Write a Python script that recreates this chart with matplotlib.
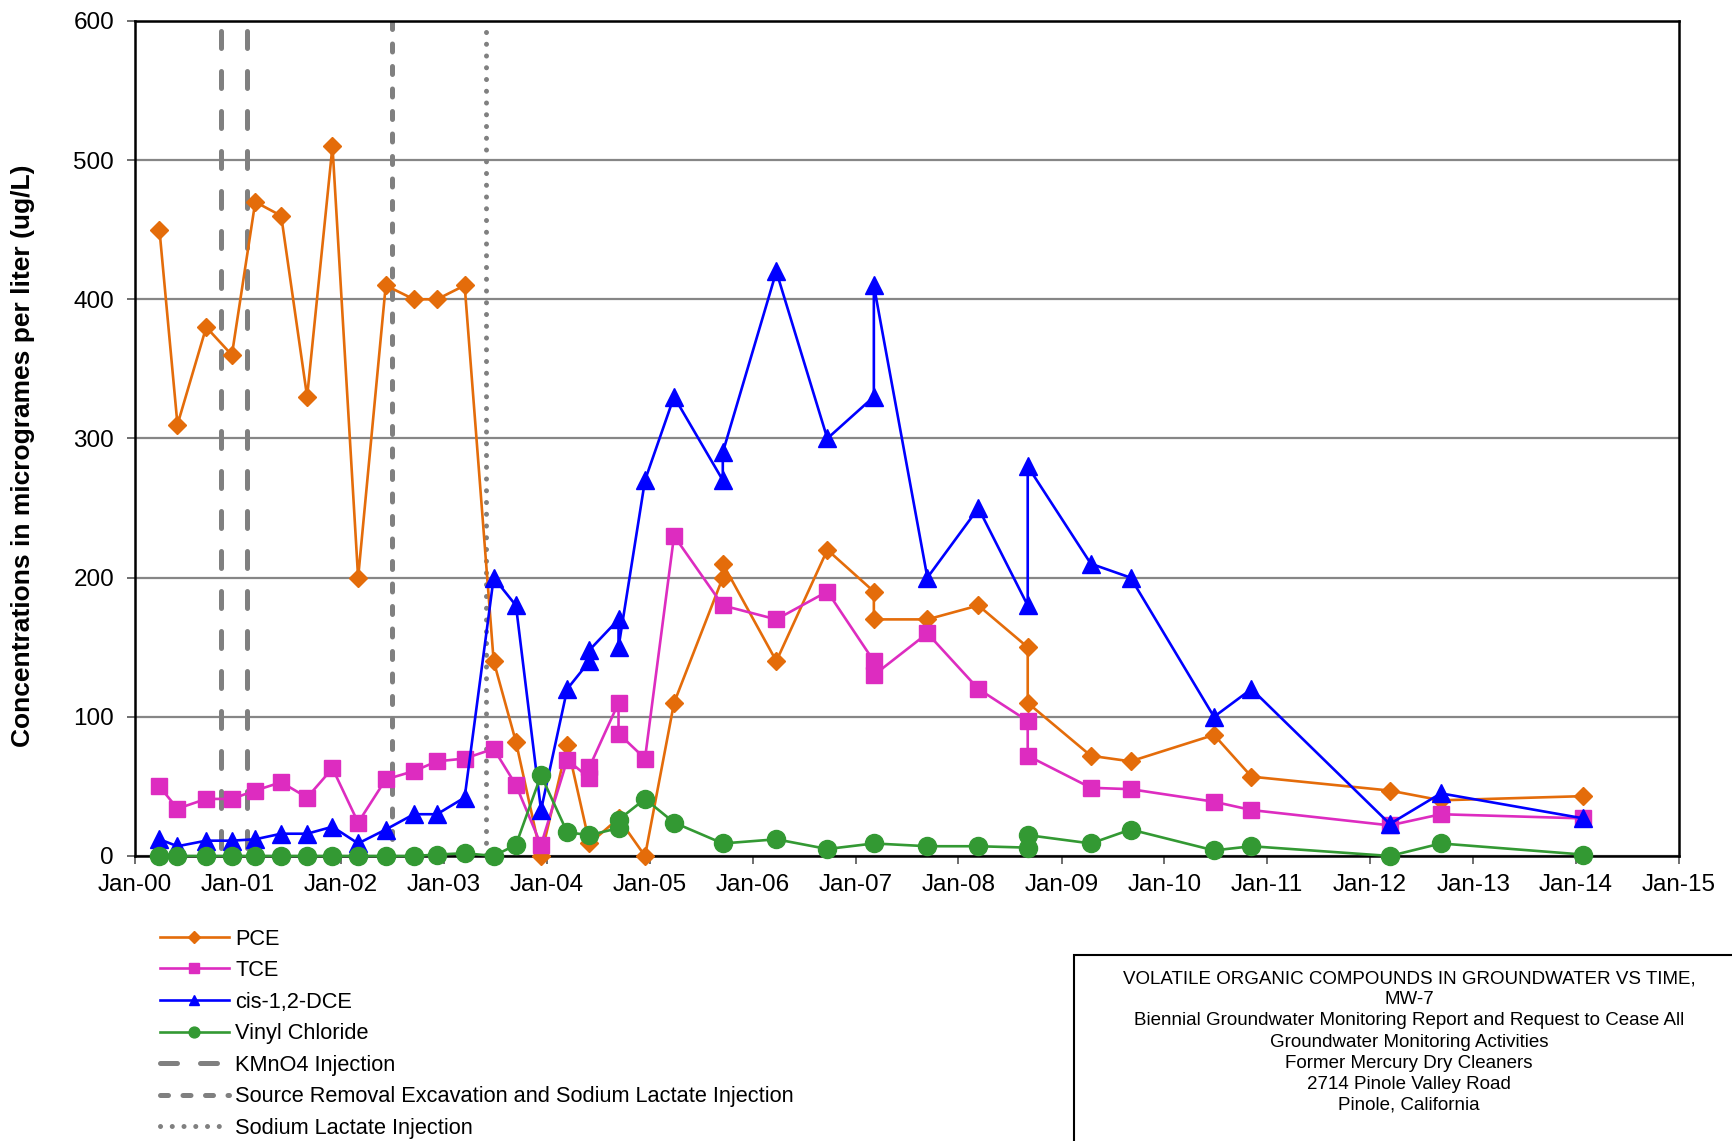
import numpy as np
import pandas as pd
import matplotlib
matplotlib.use("Agg")
import matplotlib.pyplot as plt
import matplotlib.dates as mdates
from matplotlib.patches import Rectangle

plt.rcParams["font.family"] = ["Liberation Sans", "DejaVu Sans"]

# sampling dates (repeated date = duplicate sample on the same event)
sample_dates = [
    "2000-03-28", "2000-05-31", "2000-09-10", "2000-12-10", "2001-03-03",
    "2001-06-03", "2001-09-03", "2001-12-02", "2002-03-03", "2002-06-09",
    "2002-09-17", "2002-12-08", "2003-03-16", "2003-06-27", "2003-09-14",
    "2003-12-12", "2004-03-14", "2004-06-01", "2004-06-01", "2004-09-12",
    "2004-09-12", "2004-12-15", "2005-03-28", "2005-09-17", "2005-09-17",
    "2006-03-26", "2006-09-23", "2007-03-07", "2007-03-07", "2007-09-13",
    "2008-03-12", "2008-09-03", "2008-09-03", "2009-04-15", "2009-09-03",
    "2010-06-26", "2010-11-06", "2012-03-11", "2012-09-08", "2014-01-27",
]

pce = [450, 310, 380, 360, 470, 460, 330, 510, 200, 410,
       400, 400, 410, 140, 82, 0, 80, 9, None, 27,
       None, 0, 110, 200, 210, 140, 220, 190, 170, 170,
       180, 150, 110, 72, 68, 87, 57, 47, 40, 43]
tce = [50, 34, 41, 41, 47, 53, 42, 63, 24, 55,
       61, 68, 70, 77, 51, 8, 69, 56, 64, 110,
       88, 70, 230, 180, None, 170, 190, 140, 130, 160,
       120, 97, 72, 49, 48, 39, 33, 22, 30, 27]
dce = [12, 7, 11, 11, 12, 16, 16, 21, 9, 19,
       30, 30, 42, 200, 180, 33, 120, 140, 148, 170,
       150, 270, 330, 270, 290, 420, 300, 330, 410, 200,
       250, 180, 280, 210, 200, 100, 120, 23, 45, 27]
vinyl = [0, 0, 0, 0, 0, 0, 0, 0, 0, 0,
         0, 1, 2, 0, 8, 58, 17, 15, None, 20,
         26, 41, 24, 9, None, 12, 5, 9, None, 7,
         7, 6, 15, 9, 19, 4, 7, 0, 9, 1]

series_names = ["PCE", "TCE", "cis-1,2-DCE", "Vinyl Chloride"]
series_colors = ["#E46C0A", "#DD2CC0", "#0000FF", "#339933"]

# remediation events
kmno4_dates = ["2000-11-01", "2001-02-01"]
excavation_dates = ["2002-07-01"]
lactate_dates = ["2003-06-01"]

title_lines = [
    "VOLATILE ORGANIC COMPOUNDS IN GROUNDWATER VS TIME,",
    "MW-7",
    "Biennial Groundwater Monitoring Report and Request to Cease All",
    "Groundwater Monitoring Activities",
    "Former Mercury Dry Cleaners",
    "2714 Pinole Valley Road",
    "Pinole, California",
]

df = pd.DataFrame({"date": pd.to_datetime(sample_dates), "PCE": pce, "TCE": tce,
                   "cis-1,2-DCE": dce, "Vinyl Chloride": vinyl})

fig = plt.figure(figsize=(17.32, 11.41), dpi=100)
ax = fig.add_axes([0.0779, 0.2498, 0.8915, 0.7318])

gray = "#808080"
handles = []
for name, color, marker, ms in zip(series_names, series_colors,
                                   ["D", "s", "^", "o"], [9.5, 12, 13, 13]):
    sub = df[["date", name]].dropna()
    ln, = ax.plot(sub["date"], sub[name], color=color, lw=1.9, marker=marker,
                  ms=ms, mec=color, mfc=color, clip_on=False, zorder=3,
                  label=name)
    handles.append(ln)

for i, d in enumerate(kmno4_dates):
    d = pd.Timestamp(d)
    ln, = ax.plot([d, d], [593, 0], color=gray, lw=3.6, dashes=(3.4, 4.6),
                  dash_capstyle="round", zorder=2,
                  label="KMnO4 Injection" if i == 0 else None)
    if i == 0:
        handles.append(ln)
for d in excavation_dates:
    d = pd.Timestamp(d)
    ln, = ax.plot([d, d], [600, 0], color=gray, lw=3.6, dashes=(1.6, 2.9),
                  dash_capstyle="round", zorder=2,
                  label="Source Removal Excavation and Sodium Lactate Injection")
    handles.append(ln)
for d in lactate_dates:
    d = pd.Timestamp(d)
    ln, = ax.plot([d, d], [592, 0], color=gray, lw=3.6, dashes=(0.01, 2.34),
                  dash_capstyle="round", zorder=2,
                  label="Sodium Lactate Injection")
    handles.append(ln)

ax.set_xlim(pd.Timestamp("2000-01-01"), pd.Timestamp("2015-01-01"))
ax.set_ylim(0, 600)
ax.set_yticks(range(0, 601, 100))
ax.xaxis.set_major_locator(mdates.YearLocator())
ax.xaxis.set_major_formatter(mdates.DateFormatter("%b-%y"))
ax.grid(axis="y", color="#868686", lw=1.6)
ax.set_axisbelow(True)
for sp in ax.spines.values():
    sp.set_linewidth(1.8)
    sp.set_color("black")
ax.tick_params(axis="both", labelsize=17.5, length=6, width=1.2, color="#555555")
ax.tick_params(axis="x", pad=7)
ax.tick_params(axis="y", pad=9)

ax.set_ylabel("Concentrations in microgrames per liter (ug/L)",
              fontsize=19, fontweight="bold")
ax.yaxis.set_label_coords(-0.0646, 0.479)

fig.legend(handles=handles, loc="upper left", bbox_to_anchor=(0.0924, 0.1862),
           frameon=False, fontsize=15.7, handlelength=3.14, handletextpad=0.3,
           labelspacing=0.485, markerscale=0.6, borderaxespad=0, borderpad=0)

fig.patches.append(Rectangle((0.620, -0.05), 0.45, 0.2126, transform=fig.transFigure,
                             fill=False, ec="black", lw=1.5))
fig.text(0.8135, 0.1495, "\n".join(title_lines), ha="center", va="top",
         fontsize=13.5, linespacing=1.31)

fig.savefig("out.png", dpi=100)
